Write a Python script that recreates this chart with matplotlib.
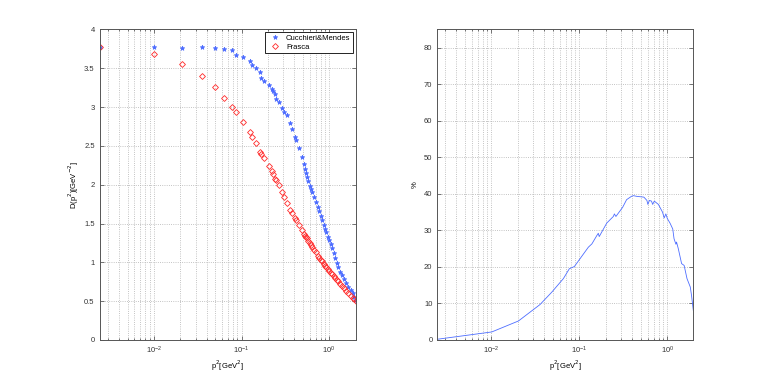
import numpy as np
import matplotlib.pyplot as plt
from matplotlib.ticker import LogLocator, FixedLocator, NullFormatter

plt.rcParams["font.family"] = ["Liberation Sans", "DejaVu Sans"]
plt.rcParams["font.size"] = 5.5

# lattice momenta p^2 [GeV^2]
p2 = [0.0024, 0.0100, 0.0207, 0.0351, 0.0497, 0.0634, 0.0783, 0.0869, 0.1037,
      0.1236, 0.1324, 0.1448, 0.1634, 0.1680, 0.1816, 0.2037, 0.2206, 0.2280,
      0.2427, 0.2470, 0.2650, 0.2870, 0.3050, 0.3326, 0.3600, 0.3790, 0.4070,
      0.4150, 0.4490, 0.4850, 0.5150, 0.5300, 0.5440, 0.5530, 0.5770, 0.6040,
      0.6200, 0.6410, 0.6760, 0.7020, 0.7390, 0.7710, 0.8000, 0.8210, 0.8650,
      0.8960, 0.9190, 0.9610, 1.0000, 1.0490, 1.0670, 1.1250, 1.1640, 1.2180,
      1.2500, 1.3300, 1.3900, 1.4760, 1.5560, 1.6520, 1.7590, 1.8540, 1.9340,
      2.0200]

# Cucchieri & Mendes lattice propagator
d_lattice = [3.775, 3.767, 3.758, 3.767, 3.754, 3.745, 3.736, 3.668, 3.638,
             3.587, 3.536, 3.497, 3.445, 3.372, 3.333, 3.290, 3.234, 3.205,
             3.162, 3.100, 3.063, 2.990, 2.930, 2.892, 2.789, 2.712, 2.620,
             2.570, 2.467, 2.360, 2.260, 2.197, 2.145, 2.100, 2.046, 1.982,
             1.943, 1.900, 1.845, 1.772, 1.716, 1.664, 1.596, 1.544, 1.484,
             1.433, 1.386, 1.330, 1.287, 1.232, 1.180, 1.116, 1.051, 0.995,
             0.936, 0.879, 0.837, 0.781, 0.737, 0.686, 0.644, 0.600, 0.557,
             0.515]

# Frasca prediction
d_frasca = [3.775, 3.677, 3.548, 3.394, 3.252, 3.118, 3.003, 2.930, 2.810,
            2.673, 2.617, 2.539, 2.423, 2.400, 2.338, 2.239, 2.179, 2.136,
            2.072, 2.060, 1.990, 1.900, 1.845, 1.770, 1.680, 1.635, 1.566,
            1.550, 1.485, 1.420, 1.364, 1.345, 1.325, 1.310, 1.280, 1.245,
            1.225, 1.200, 1.155, 1.127, 1.085, 1.055, 1.031, 1.014, 0.979,
            0.957, 0.940, 0.910, 0.883, 0.860, 0.850, 0.820, 0.800, 0.776,
            0.760, 0.725, 0.700, 0.665, 0.636, 0.600, 0.570, 0.544, 0.524,
            0.500]

# relative difference [%]
p2_err = [0.00243, 0.0101, 0.0203, 0.0357, 0.0486, 0.0658, 0.0769, 0.0877,
          0.100, 0.1265, 0.1387, 0.158, 0.164, 0.168, 0.2047, 0.243, 0.250,
          0.260, 0.310, 0.344, 0.390, 0.410, 0.450, 0.540, 0.585, 0.600,
          0.625, 0.660, 0.680, 0.710, 0.790, 0.880, 0.920, 0.960, 1.000,
          1.070, 1.150, 1.190, 1.250, 1.270, 1.330, 1.450, 1.550, 1.670,
          1.820, 1.880, 1.970]
err = [0.2, 2.2, 5.2, 9.7, 13.1, 16.8, 19.5, 20.1, 22.0, 25.4, 26.3, 28.6,
       29.2, 28.3, 32.0, 33.8, 34.5, 33.8, 36.3, 38.4, 39.3, 39.5, 39.3,
       39.1, 38.2, 37.1, 38.2, 38.0, 37.1, 38.0, 37.1, 35.0, 33.4, 34.5,
       33.2, 32.0, 30.4, 27.7, 26.2, 26.8, 25.0, 20.9, 20.4, 16.8, 14.5,
       12.2, 8.1]

fig = plt.figure(figsize=(7.66, 3.83), dpi=100)
ax1 = fig.add_axes([0.130, 0.1123, 0.3346, 0.811])
ax2 = fig.add_axes([0.5709, 0.1123, 0.3342, 0.811])

blue = "#4a6aff"
ax1.plot(p2, d_lattice, linestyle="none", marker="*", color=blue,
         markersize=3.4, markeredgewidth=0.5, label="Cucchieri&Mendes")
ax1.plot(p2, d_frasca, linestyle="none", marker="D", markerfacecolor="none",
         markeredgecolor="#ff2a2a", markersize=3.0, markeredgewidth=0.6,
         label="Frasca")
ax2.plot(p2_err, err, color="#4d6dff", linewidth=0.6)

for ax in (ax1, ax2):
    ax.set_xscale("log")
    ax.xaxis.set_major_locator(FixedLocator([1e-2, 1e-1, 1e0]))
    ax.xaxis.set_minor_locator(LogLocator(base=10, subs=np.arange(2, 10)))
    ax.xaxis.set_minor_formatter(NullFormatter())
    ax.tick_params(which="both", direction="in", top=True, right=True,
                   colors="#444444", labelcolor="#333333", width=0.5)
    ax.tick_params(which="major", length=3)
    ax.tick_params(which="minor", length=1.5)
    ax.grid(True, which="both", axis="x", linestyle=":", color="#b0b0b0",
            linewidth=0.6)
    ax.grid(True, which="major", axis="y", linestyle=":", color="#b0b0b0",
            linewidth=0.6)
    for s in ax.spines.values():
        s.set_color("#555555")
        s.set_linewidth(0.7)
    ax.set_xlabel("p$^2$[GeV$^2$]", labelpad=2)

ax1.set_xlim(p2[0], p2[-1])
ax1.set_ylim(0, 4)
ax1.set_yticks([0, 0.5, 1, 1.5, 2, 2.5, 3, 3.5, 4])
ax1.set_yticklabels(["0", "0.5", "1", "1.5", "2", "2.5", "3", "3.5", "4"])
ax1.set_ylabel("D(p$^2$)[GeV$^{-2}$]", labelpad=2)
leg = ax1.legend(loc="upper right", fancybox=False, edgecolor="black",
                 framealpha=1, borderaxespad=0.4, handletextpad=0.5,
                 borderpad=0.3, labelspacing=0.2, fontsize=5.5)
leg.get_frame().set_linewidth(0.6)

ax2.set_xlim(p2_err[0], p2_err[-1])
ax2.set_ylim(0, 85)
ax2.set_yticks([0, 10, 20, 30, 40, 50, 60, 70, 80])
ax2.set_ylabel("%", labelpad=4)

fig.savefig("out.png", dpi=100)
